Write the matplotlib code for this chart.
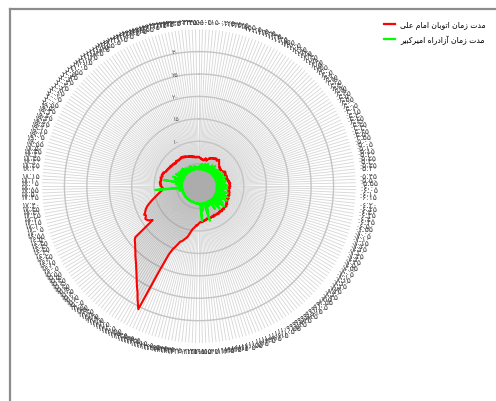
import numpy as np
import matplotlib
matplotlib.use("Agg")
import matplotlib.pyplot as plt
from matplotlib.lines import Line2D

plt.rcParams['font.family'] = ['DejaVu Sans']

# 5-minute slots over one day, clockwise from the top
hours = list(range(24))
minutes = list(range(0, 60, 5))

series_names = ["مدت زمان اتوبان امام علی", "مدت زمان آزادراه امیرکبیر"]
series_colors = ["#ff0000", "#00ff00"]

# travel time, one row per hour (12 slots)
imam_ali = [
    6.5, 6.4, 6.2, 6.3, 6.0, 6.1, 5.9, 6.0, 5.8, 6.0, 6.2, 6.4,
    6.0, 5.9, 6.1, 6.4, 6.6, 6.5, 6.8, 6.7, 6.9, 7.0, 6.8, 7.1,
    7.2, 7.0, 7.3, 7.1, 6.9, 7.2, 7.4, 7.1, 7.0, 6.8, 6.6, 6.5,
    6.4, 6.2, 6.3, 6.1, 6.0, 6.2, 6.0, 5.9, 6.1, 6.0, 6.2, 6.3,
    6.5, 6.7, 6.4, 6.6, 6.3, 6.5, 6.2, 6.4, 6.6, 6.3, 6.5, 6.2,
    6.4, 6.6, 6.3, 6.5, 6.8, 6.6, 6.9, 6.7, 7.0, 6.8, 6.9, 6.8,
    7.0, 6.8, 6.6, 6.9, 6.7, 6.5, 6.8, 6.6, 6.9, 6.7, 7.0, 6.8,
    6.9, 7.1, 6.8, 7.0, 6.7, 6.9, 7.2, 7.0, 6.8, 7.1, 6.9, 7.2,
    7.0, 7.3, 7.5, 7.2, 7.4, 7.6, 7.3, 7.5, 7.2, 7.4, 7.6, 7.3,
    7.5, 7.3, 7.6, 7.4, 7.2, 7.5, 7.3, 7.4, 7.6, 7.3, 7.5, 7.4,
    7.3, 7.5, 7.2, 7.4, 7.6, 7.3, 7.5, 7.4, 7.6, 7.5, 7.7, 7.5,
    7.6, 7.4, 7.7, 7.6, 7.8, 7.7, 7.9, 8.0, 7.8, 8.1, 8.0, 8.1,
    8.3, 8.5, 8.8, 8.7, 9.0, 9.3, 9.5, 9.8, 10.3, 10.9, 11.5, 11.9,
    12.2, 12.6, 12.9, 13.1, 13.8, 14.5, 15.2, 16.5, 20.5, 30.6, 29.5, 28.5,
    27.4, 26.6, 25.8, 25.0, 24.3, 23.6, 23.0, 22.4, 21.9, 21.4, 21.0, 20.5,
    20.1, 19.7, 19.3, 19.0, 18.7, 18.2, 15.0, 12.8, 13.3, 13.7, 13.9, 14.0,
    13.7, 13.5, 13.8, 13.4, 13.2, 13.0, 12.7, 12.4, 12.0, 11.6, 11.2, 10.8,
    10.4, 10.0, 9.7, 9.4, 9.1, 8.8, 8.5, 8.3, 8.2, 8.4, 8.1, 8.3,
    8.6, 8.4, 8.7, 8.5, 8.8, 8.6, 8.7, 8.5, 8.7, 8.5, 8.8, 8.6,
    8.4, 8.7, 8.5, 8.6, 8.3, 8.5, 8.2, 8.0, 8.1, 7.9, 8.0, 7.8,
    7.9, 7.7, 7.8, 7.6, 7.8, 7.5, 7.7, 7.6, 7.4, 7.6, 7.3, 7.5,
    7.2, 7.4, 7.6, 7.3, 7.5, 7.4, 7.2, 7.4, 7.5, 7.3, 7.4, 7.6,
    7.3, 7.5, 7.2, 7.4, 7.1, 7.3, 7.0, 7.1, 6.9, 7.1, 6.8, 7.0,
    6.7, 6.9, 6.6, 6.8, 6.5, 6.7, 6.6, 6.4, 6.5, 6.6, 6.4, 6.5,
]

amirkabir = [
    3.8, 4.5, 3.7, 3.9, 4.8, 3.8, 3.7, 5.0, 3.9, 3.8, 4.2, 3.7,
    3.8, 5.2, 3.9, 3.7, 4.6, 3.8, 5.4, 3.9, 3.8, 4.4, 3.7, 5.0,
    3.9, 3.8, 5.5, 4.0, 3.8, 4.7, 3.9, 5.8, 4.0, 3.8, 5.2, 3.9,
    4.0, 5.3, 3.9, 4.1, 5.6, 3.9, 3.8, 5.0, 4.0, 3.9, 5.9, 4.0,
    3.9, 4.8, 4.0, 6.0, 4.1, 3.9, 5.5, 4.0, 3.9, 6.2, 4.1, 4.0,
    5.4, 4.0, 3.9, 6.1, 4.0, 4.2, 5.8, 4.0, 3.9, 5.0, 4.1, 6.3,
    4.0, 3.9, 5.8, 4.1, 4.0, 6.4, 4.1, 3.9, 5.5, 4.0, 4.2, 6.6,
    4.1, 4.0, 6.0, 4.2, 4.1, 6.9, 4.2, 4.0, 5.6, 4.1, 7.0, 4.2,
    4.1, 5.9, 4.2, 4.0, 6.5, 4.1, 4.2, 7.2, 4.1, 4.0, 6.0, 4.2,
    4.1, 4.0, 6.8, 4.2, 4.1, 5.2, 4.0, 4.1, 6.2, 4.0, 3.9, 4.6,
    4.0, 4.1, 3.9, 5.0, 4.0, 3.9, 4.1, 4.0, 6.0, 4.0, 8.1, 4.1,
    4.0, 3.9, 4.1, 4.0, 3.9, 5.5, 4.0, 3.9, 7.8, 4.0, 3.9, 4.1,
    4.0, 3.9, 4.0, 3.8, 3.9, 4.0, 3.8, 3.9, 4.0, 3.8, 3.9, 3.8,
    3.9, 3.8, 3.7, 3.8, 3.9, 3.7, 3.8, 3.9, 3.8, 3.7, 3.8, 3.9,
    3.8, 3.7, 3.9, 3.8, 3.7, 3.8, 3.9, 3.8, 3.7, 3.8, 3.7, 3.9,
    3.8, 3.7, 3.8, 3.9, 3.7, 3.8, 3.7, 3.9, 3.8, 3.7, 3.8, 3.7,
    3.8, 3.9, 3.7, 3.8, 3.7, 3.8, 3.9, 3.7, 3.8, 3.9, 3.7, 3.8,
    3.8, 3.7, 4.5, 3.8, 3.7, 3.9, 3.8, 5.0, 9.8, 3.9, 3.8, 4.2,
    3.8, 4.6, 3.9, 3.7, 5.2, 3.8, 3.9, 3.8, 8.0, 3.9, 3.8, 4.8,
    3.9, 5.6, 3.8, 3.9, 6.2, 3.8, 3.7, 5.0, 3.9, 3.8, 5.8, 3.9,
    3.8, 4.6, 3.9, 5.5, 3.8, 3.9, 4.8, 3.8, 5.3, 3.9, 3.8, 4.5,
    3.9, 5.4, 3.8, 3.9, 4.6, 3.8, 5.0, 3.9, 3.8, 4.4, 3.9, 3.8,
    4.7, 3.8, 3.9, 4.2, 3.8, 4.9, 3.9, 3.8, 4.3, 3.9, 3.8, 4.5,
    3.8, 3.9, 4.6, 3.8, 3.9, 4.1, 3.8, 4.4, 3.9, 3.8, 4.2, 3.9,
]

ring_ticks = [10, 15, 20, 25, 30]
rings = [5, 10, 15, 20, 25, 30]
r_max = 35

FA_DIGITS = "۰۱۲۳۴۵۶۷۸۹"

# isolated, final, initial, medial
FORMS = {
    'ا': ('\uFE8D', '\uFE8E', None, None),
    'آ': ('\uFE81', '\uFE82', None, None),
    'ب': ('\uFE8F', '\uFE90', '\uFE91', '\uFE92'),
    'ت': ('\uFE95', '\uFE96', '\uFE97', '\uFE98'),
    'د': ('\uFEA9', '\uFEAA', None, None),
    'ر': ('\uFEAD', '\uFEAE', None, None),
    'ز': ('\uFEAF', '\uFEB0', None, None),
    'ع': ('\uFEC9', '\uFECA', '\uFECB', '\uFECC'),
    'ک': ('\uFB8E', '\uFB8F', '\uFB90', '\uFB91'),
    'ل': ('\uFEDD', '\uFEDE', '\uFEDF', '\uFEE0'),
    'م': ('\uFEE1', '\uFEE2', '\uFEE3', '\uFEE4'),
    'ن': ('\uFEE5', '\uFEE6', '\uFEE7', '\uFEE8'),
    'ه': ('\uFEE9', '\uFEEA', '\uFEEB', '\uFEEC'),
    'و': ('\uFEED', '\uFEEE', None, None),
    'ی': ('\uFBFC', '\uFBFD', '\uFBFE', '\uFBFF'),
}


def shape_fa(text):
    # join letters by hand and flip the line for right-to-left display
    out = []
    for i, c in enumerate(text):
        if c not in FORMS:
            out.append(c)
            continue
        prev = text[i - 1] if i > 0 else ''
        nxt = text[i + 1] if i + 1 < len(text) else ''
        join_prev = prev in FORMS and FORMS[prev][2] is not None
        join_next = FORMS[c][2] is not None and nxt in FORMS
        iso, fin, ini, med = FORMS[c]
        if join_prev and join_next:
            out.append(med)
        elif join_prev:
            out.append(fin)
        elif join_next:
            out.append(ini)
        else:
            out.append(iso)
    return "".join(out)[::-1]


def fa_num(s):
    return "".join(FA_DIGITS[int(ch)] if ch.isdigit() else ch for ch in str(s))


time_labels = [fa_num("%02d:%02d" % (h, m)) for h in hours for m in minutes]
n = len(time_labels)
theta = np.arange(n) * 2 * np.pi / n

fig = plt.figure(figsize=(4.96, 4.02), dpi=100)
ax = fig.add_axes([0.0847, 0.144, 0.633, 0.781], projection='polar')
ax.set_theta_zero_location('N')
ax.set_theta_direction(-1)
ax.set_ylim(0, r_max)
ax.set_xticks([])
ax.set_yticks([])
ax.grid(False)
ax.spines['polar'].set_visible(False)

# spokes and rings
ax.vlines(theta, 0, r_max, colors='#d6d6d6', linewidth=0.6, zorder=1)
circ = np.linspace(0, 2 * np.pi, 400)
for r in rings:
    ax.plot(circ, np.full_like(circ, r), color='#c4c4c4', linewidth=1.0, zorder=2)

for r in ring_ticks:
    ax.annotate(fa_num(r), xy=(0, r), xytext=(-24, 0), textcoords='offset pixels',
                ha='center', va='center', fontsize=4.5, color='#555555', zorder=3)

# point labels around the outside
for th, lab in zip(theta, time_labels):
    s, c = np.sin(th), np.cos(th)
    ha = 'left' if s > 0.08 else ('right' if s < -0.08 else 'center')
    va = 'bottom' if c > 0.08 else ('top' if c < -0.08 else 'center')
    ax.annotate(lab, xy=(th, r_max), xytext=(3 * s, 3 * c), textcoords='offset pixels',
                ha=ha, va=va, fontsize=5.5, color='#444444', zorder=3)

handles = []
for vals, col in zip([imam_ali, amirkabir], series_colors):
    t = np.append(theta, theta[0])
    v = np.append(vals, vals[0])
    ax.fill(t, v, color=(0, 0, 0, 0.1), zorder=4)
    ax.plot(t, v, color=col, linewidth=1.5, zorder=5)
    handles.append(Line2D([], [], color=col, linewidth=1.6))

ax.legend(handles, [shape_fa(s) for s in series_names], loc='upper right',
          bbox_to_anchor=(0.985, 0.955), bbox_transform=fig.transFigure,
          frameon=False, fontsize=5.5, handlelength=1.4, handletextpad=0.7,
          labelspacing=0.7, borderaxespad=0)

# canvas edge
fig.add_artist(Line2D([10 / 496, 1], [1 - 10 / 402] * 2, transform=fig.transFigure,
                      color='#8c8c8c', linewidth=1.6))
fig.add_artist(Line2D([10 / 496] * 2, [0, 1 - 10 / 402], transform=fig.transFigure,
                      color='#8c8c8c', linewidth=1.6))

fig.savefig("out.png", dpi=100, facecolor='white')
